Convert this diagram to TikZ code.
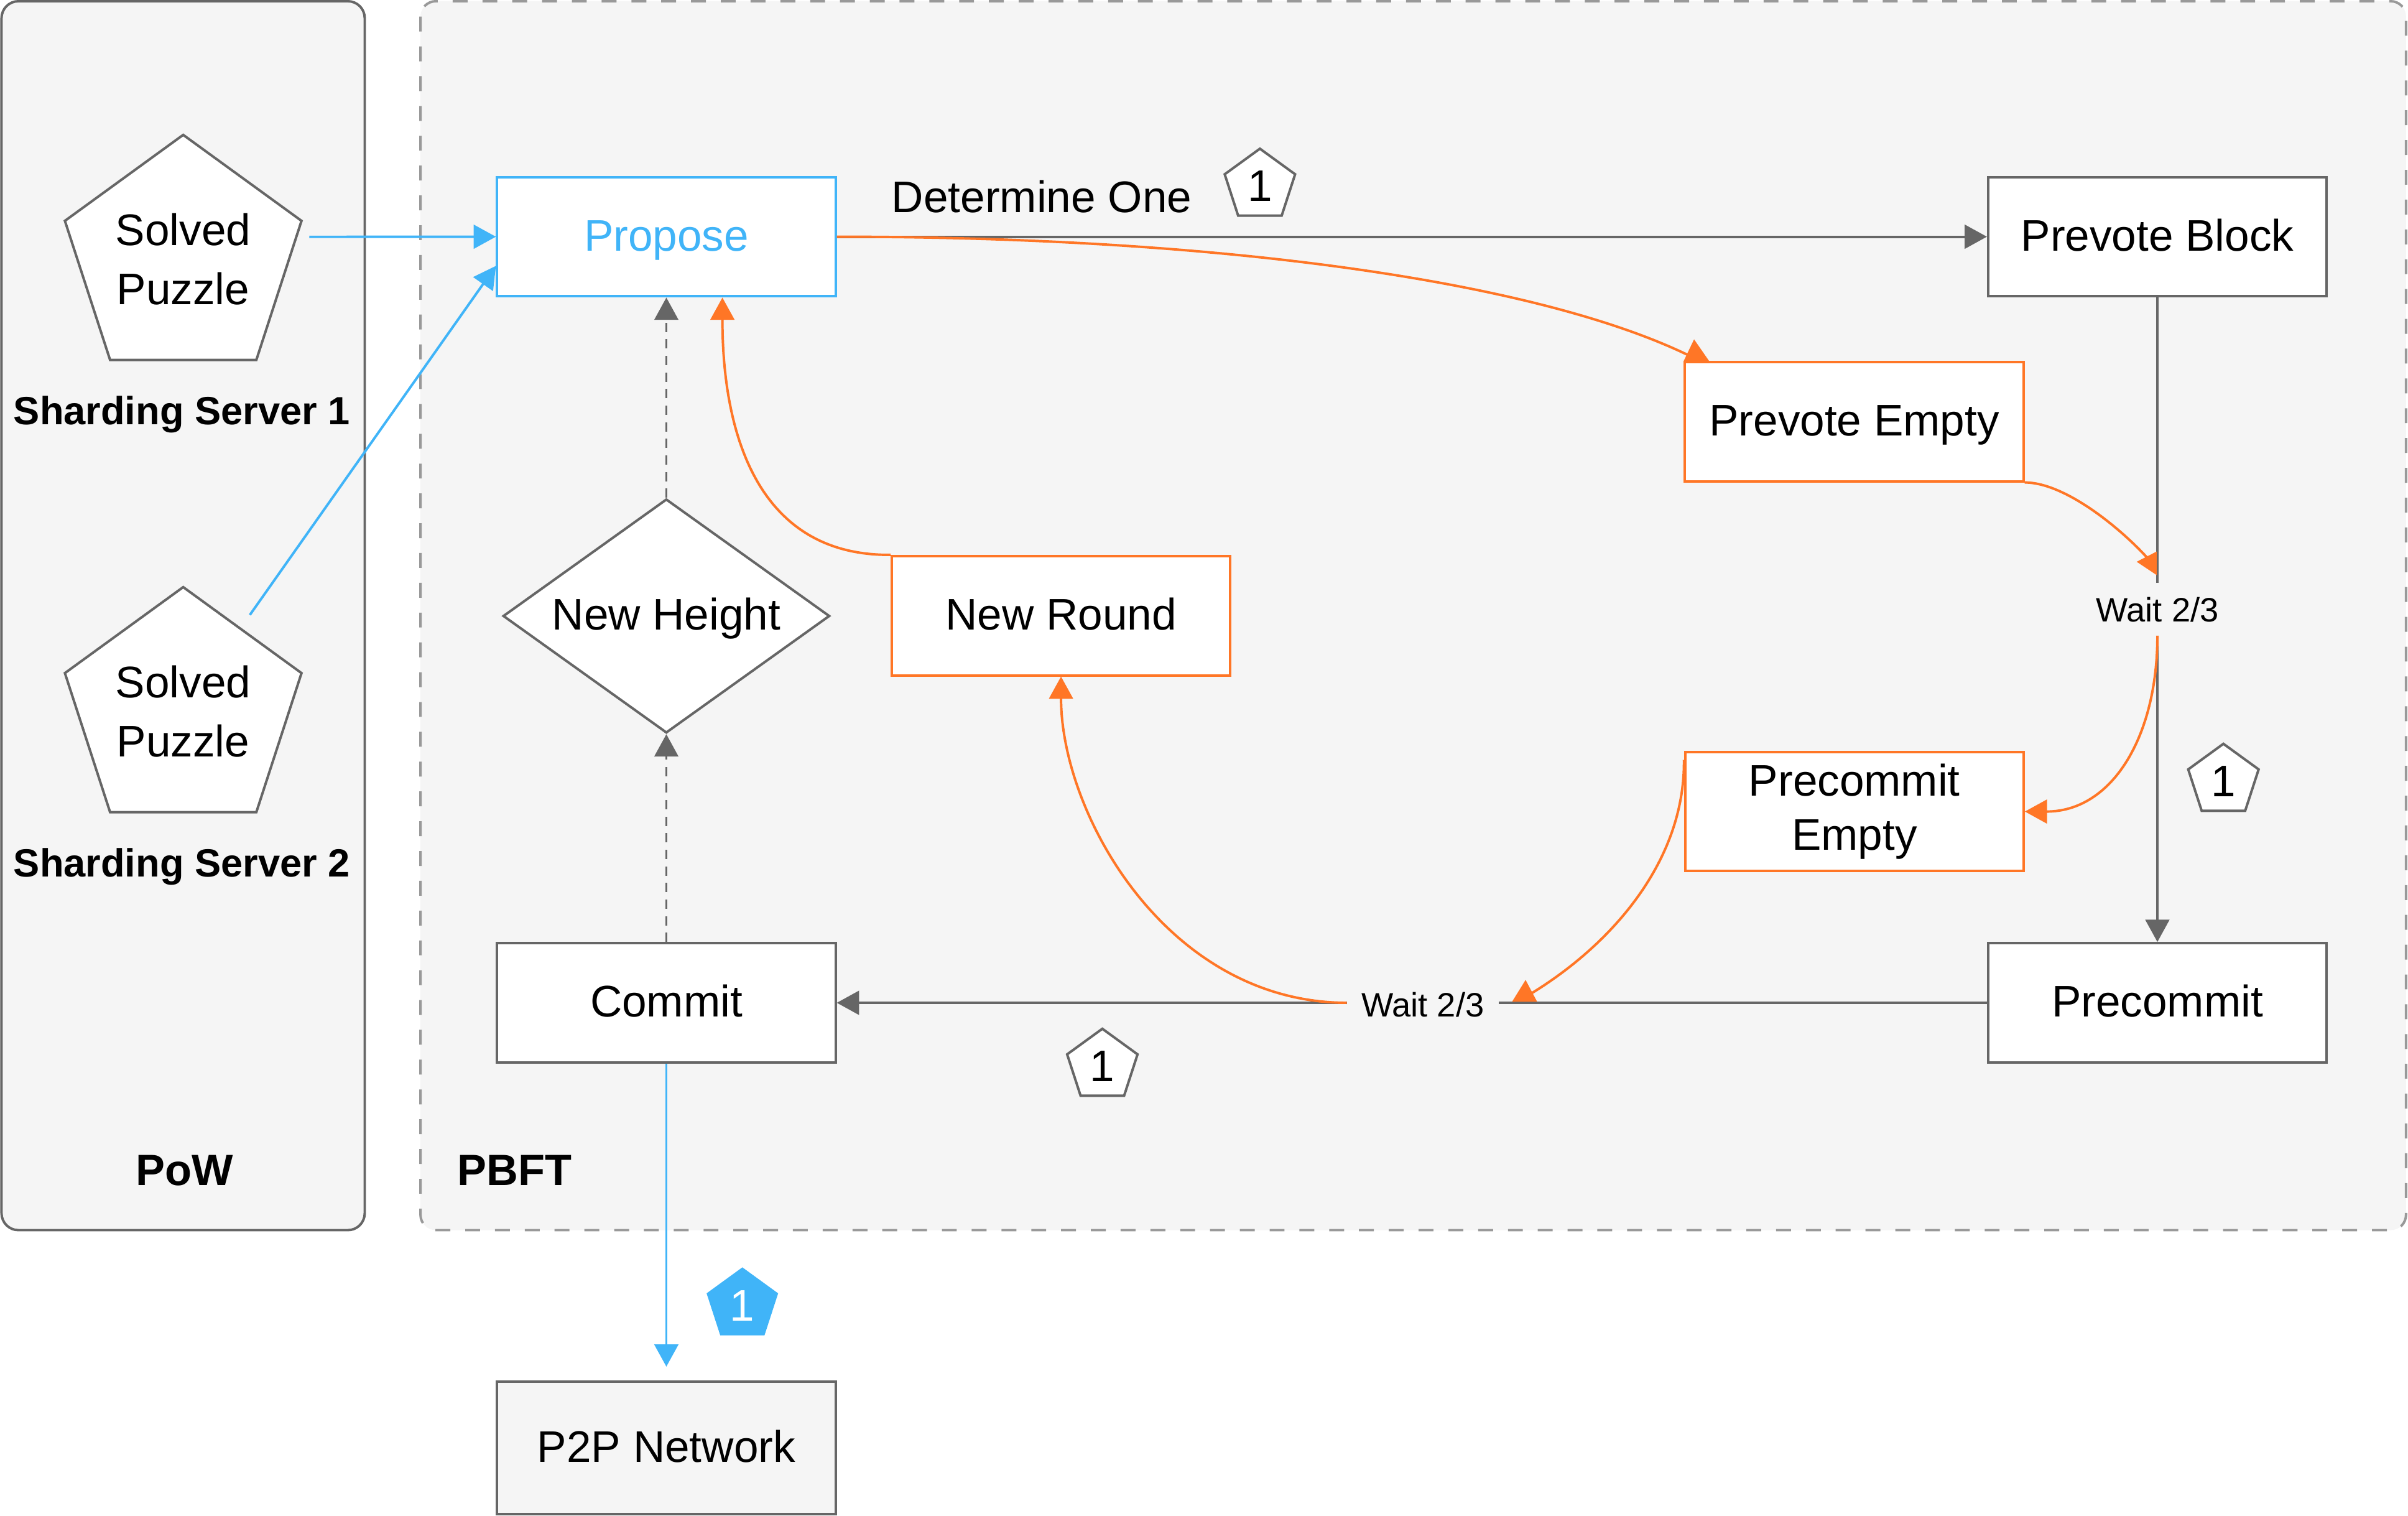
\documentclass[tikz,border=0pt]{standalone}
\usepackage{fontspec}
\setmainfont{Liberation Sans}
\usetikzlibrary{arrows.meta,shapes.geometric,calc}
\definecolor{cblue}{RGB}{64,180,248}
\definecolor{corange}{RGB}{255,118,38}
\definecolor{cgray}{HTML}{666666}
\definecolor{cdash}{HTML}{999999}
\definecolor{cfill}{HTML}{F5F5F5}
\begin{document}
\begin{tikzpicture}[x=1pt,y=1pt,
  tipx/.tip={Triangle[length=14.5pt,width=15.5pt]},
  box/.style={draw=cgray, fill=white, line width=1.6pt, rectangle, inner sep=0pt,
    minimum width=220.4pt, minimum height=77.6pt, font=\fontsize{28.8}{34.9}\selectfont},
  one/.style={text height=24.4pt, text depth=6pt},
  obox/.style={box, draw=corange},
  bbox/.style={box, draw=cblue, text=cblue},
  pent/.style={draw=cgray, fill=white, line width=1.6pt, regular polygon,
    regular polygon sides=5, inner sep=0pt},
  bigpent/.style={pent, minimum size=162pt, align=center,
    font=\fontsize{28.8}{38.3}\selectfont},
  smallpent/.style={pent, minimum size=48.2pt, text height=20.6pt, text depth=0pt,
    font=\fontsize{28.8}{34.6}\selectfont},
  waitlbl/.style={inner sep=0pt, font=\fontsize{22}{26}\selectfont},
  boldlbl/.style={inner sep=0pt, font=\bfseries\fontsize{28.5}{34}\selectfont},
  srvlbl/.style={inner sep=0pt, anchor=base, font=\bfseries\fontsize{25.6}{30}\selectfont},
  gline/.style={draw=cgray, line width=1.6pt},
  garrow/.style={gline, -tipx},
  darrow/.style={draw=cgray, line width=1.3pt, dash pattern=on 6pt off 4.8pt, -tipx},
  oline/.style={draw=corange, line width=1.6pt},
  oarrow/.style={oline, -tipx},
  bline/.style={draw=cblue, line width=1.6pt},
  barrow/.style={bline, -tipx}
]
\fill[white] (0,0) rectangle (1568,-986.5);
\useasboundingbox (0,0) rectangle (1568,-986.5);

% containers
\draw[cgray, fill=cfill, line width=1.6pt, rounded corners=11pt] (1,-0.8) rectangle (237.5,-800.8);
\draw[cdash, fill=cfill, line width=1.6pt, rounded corners=10pt, dash pattern=on 9.7pt off 9.7pt]
  (273.8,-0.8) rectangle (1566.7,-800.8);

% labels
\node[boldlbl, anchor=base] (pow) at (120,-771.6) {PoW};
\node[boldlbl, anchor=base west] (pbft) at (297.8,-771.6) {PBFT};
\node[srvlbl] (ss1) at (118.4,-276.3) {Sharding Server 1};
\node[srvlbl] (ss2) at (118.4,-570.7) {Sharding Server 2};
\node[inner sep=0pt, anchor=base west, font=\fontsize{28.8}{34.6}\selectfont] (det) at (580.5,-138.2) {Determine One};

% pentagons
\node[bigpent] (sp1) at (119.3,-168.8) {Solved\\Puzzle};
\node[bigpent] (sp2) at (119.3,-463.2) {Solved\\Puzzle};
\node[smallpent] (n1) at (820.4,-120.9) {1};
\node[smallpent] (n2) at (1447.8,-508.3) {1};
\node[smallpent] (n3) at (717.8,-693.8) {1};
\node[smallpent, fill=cblue, draw=cblue, text=white, minimum size=47pt] (n4) at (483.4,-849.5) {1};

% boxes
\node[bbox, one] (pr) at (433.9,-154.1) {Propose};
\node[box, one] (pb) at (1404.8,-154.1) {Prevote Block};
\node[obox, one] (pe) at (1207.4,-274.5) {Prevote Empty};
\node[draw=cgray, fill=white, line width=1.6pt, diamond, shape aspect=1.4, inner sep=0pt,
  minimum width=212.7pt, minimum height=152.3pt, text height=24.4pt, text depth=6pt,
  font=\fontsize{28.8}{34.6}\selectfont] (nh) at (433.9,-401) {New Height};
\node[obox, one] (nr) at (690.9,-400.8) {New Round};
\node[obox, align=center] (pce) at (1207.5,-528.3) {Precommit\\Empty};
\node[box, one] (pc) at (1404.8,-652.8) {Precommit};
\node[box, one] (cm) at (433.9,-652.8) {Commit};
\node[box, one, fill=cfill, minimum height=86.1pt] (p2p) at (433.9,-942.5) {P2P Network};

% wait labels
\node[waitlbl, anchor=base, text height=16.5pt, text depth=0pt, inner ysep=8.8pt] (w1) at (1404.8,-404.8) {Wait 2/3};
\node[waitlbl, anchor=base, inner xsep=9.35pt] (w2) at (926.5,-661.9) {Wait 2/3};
\coordinate (w2l) at (w2.west |- pc.west);
\coordinate (w2r) at (w2.east |- pc.west);

% free ends of the orange curves
\coordinate (t1) at (1103,-233);
\coordinate (t2) at (1399,-364);
\coordinate (t3) at (995,-648);
\coordinate (pces) at ([yshift=-6pt]pce.north west);

% blue connectors
\draw[barrow] ([shift={(82.1,14.6)}]sp1.center) -- (pr.west);
\draw[barrow] ([shift={(43.4,62.9)}]sp2.center) -- ([yshift=-19pt]pr.west);
\draw[barrow] (cm.south) -- ([yshift=9pt]p2p.north);

% gray connectors
\draw[garrow] (pr.east) -- (pb.west);
\draw[gline] (pb.south) -- (w1.north);
\draw[garrow] (w1.south) -- (pc.north);
\draw[gline] (pc.west) -- (w2r);
\draw[garrow] (w2l) -- (cm.east);
\draw[darrow] (nh.north) -- (pr.south);
\draw[darrow] (cm.north) -- (nh.south);

% orange connectors
\draw[oline] (pr.east) .. controls (794.2,-154.1) and (1003,-183) .. (t1);
\fill[corange] (pe.north west) -- ++(16.4,0) -- ++(-9.7,14) -- cycle;
\draw[oline] (pe.south east) .. controls (1345,-314) and (1382,-345) .. (t2);
\fill[corange] (1404.4,-359) -- (1404.4,-374.4) -- (1391.3,-365.7) -- cycle;
\draw[oarrow] (w1.south) .. controls (1404.8,-480) and (1375,-528.3) .. (pce.east);
\draw[oline] (pces) .. controls (1097.3,-560) and (1050,-615) .. (t3);
\fill[corange] (984.6,-652.1) -- (1000.9,-652.1) -- (993.4,-637.9) -- cycle;
\draw[oarrow] (w2l) .. controls (760,-652.6) and (690.9,-530) .. (nr.south);
\draw[oarrow] (nr.north west) .. controls (495,-361.9) and (470.4,-285) .. ([xshift=36.5pt]pr.south);
\end{tikzpicture}
\end{document}
